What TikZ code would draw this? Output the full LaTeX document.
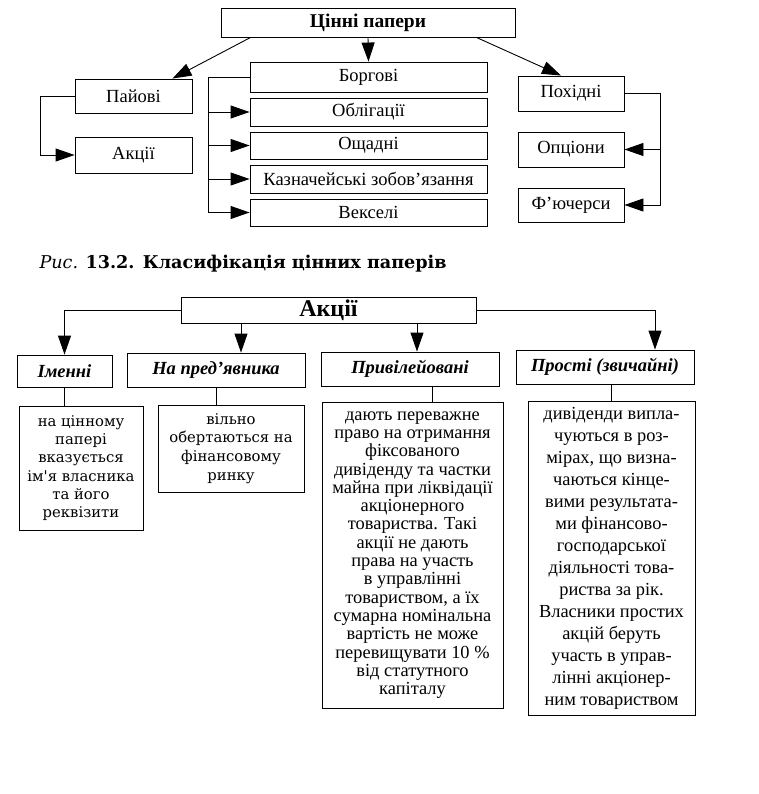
\documentclass[tikz,border=0pt]{standalone}
\usepackage{fontspec}
\setmainfont{Liberation Serif}
\newfontfamily\schfont{DejaVu Serif}
\usetikzlibrary{calc,arrows.meta}

\begin{document}
\begin{tikzpicture}[x=1pt, y=-1pt,
    box/.style={draw, line width=0.9pt, inner sep=0pt, align=center, font=\fontsize{18.5}{20}\selectfont},
    hbox/.style={box, font=\fontsize{18.5}{20}\selectfont\bfseries\itshape},
    tbox/.style={draw, line width=0.9pt, inner sep=0pt, align=center},
    arr/.style={line width=0.9pt, -{Triangle[length=19pt, width=13pt]}},
    ln/.style={line width=0.9pt}]
    \useasboundingbox[fill=white] (0,0) rectangle (758,794);

    % Класифікація цінних паперів
    \node[box, minimum width=294, minimum height=29, font=\fontsize{19.5}{21}\selectfont\bfseries] (cp) at (368,22.5) {Цінні папери};
    \node[box, minimum width=117, minimum height=34] (paiovi) at (133.5,96) {Пайові};
    \node[box, minimum width=117, minimum height=36] (akcii) at (133.5,155) {Акції};
    \node[box, minimum width=237, minimum height=30] (borg) at (368.5,77) {Боргові};
    \node[box, minimum width=237, minimum height=28] (obl) at (368.5,112) {Облігації};
    \node[box, minimum width=237, minimum height=27] (oshch) at (368.5,145.5) {Ощадні};
    \node[box, minimum width=237, minimum height=28] (kazn) at (368.5,179) {Казначейські зобов'язання};
    \node[box, minimum width=237, minimum height=27] (veks) at (368.5,212.5) {Векселі};
    \node[box, minimum width=106, minimum height=35] (poh) at (571,93.5) {Похідні};
    \node[box, minimum width=106, minimum height=35] (opc) at (571,149.5) {Опціони};
    \node[box, minimum width=106, minimum height=34] (fut) at (571,205) {Ф'ючерси};

    \draw[arr] ($(cp.south west)+(30,0)$) -- ($(paiovi.north east)+(-20,0)$);
    \draw[arr] (cp.south) -- (borg.north);
    \draw[arr] ($(cp.south east)+(-39,0)$) -- ($(poh.north)+(-10,0)$);

    \draw[arr] (paiovi.west) -- ++(-34,0) |- (akcii.west);
    \coordinate (bl) at ($(borg.west)+(-41,0)$);
    \draw[arr] (borg.west) -- (bl) |- (veks.west);
    \foreach \n in {obl, oshch, kazn}
        \draw[arr] (bl |- \n.west) -- (\n.west);
    \coordinate (pr) at ($(poh.east)+(36,0)$);
    \draw[arr] (poh.east) -- (pr) |- (fut.east);
    \draw[arr] (pr |- opc.east) -- (opc.east);

    \node[anchor=west, font=\schfont\fontsize{17.6}{19}\selectfont] (cap) at (36,264) {\textit{Рис.} \textbf{13.2. Класифікація цінних паперів}};

    % Акції
    \node[box, minimum width=295, minimum height=26, font=\fontsize{24}{26}\selectfont\bfseries] (ak) at (328.5,310) {Акції};
    \node[hbox, minimum width=95, minimum height=32] (im) at (64.5,371) {Іменні};
    \node[hbox, minimum width=178, minimum height=34] (np) at (216,370) {На пред'явника};
    \node[hbox, minimum width=178, minimum height=34] (pv) at (410,369) {Привілейовані};
    \node[hbox, minimum width=178, minimum height=34] (ps) at (605,367) {Прості (звичайні)};

    \draw[arr] (ak.west) -| (im.north);
    \draw[arr] (ak.east) -| ($(ps.north)+(50,0)$);
    \coordinate (a2) at ($(np.north)+(25,0)$);
    \coordinate (a3) at ($(pv.north)+(7,0)$);
    \foreach \c in {a2, a3}
        \draw[arr] (\c |- ak.south) -- (\c);

    \node[tbox, minimum width=124, minimum height=124, font=\schfont\fontsize{14.8}{18.2}\selectfont] (t1) at (81,468)
        {на цінному\\папері\\вказується\\ім'я власника\\та його\\реквізити};
    \node[tbox, minimum width=146, minimum height=87, font=\schfont\fontsize{14.8}{18.7}\selectfont] (t2) at (231,448.5)
        {вільно\\обертаються на\\фінансовому\\ринку};
    \node[tbox, minimum width=181, minimum height=306, font=\fontsize{18.4}{18.3}\selectfont] (t3) at (412.5,555)
        {дають переважне\\право на отримання\\фіксованого\\дивіденду та частки\\майна при ліквідації\\акціонерного\\товариства. Такі\\акції не дають\\права на участь\\в управлінні\\товариством, а їх\\сумарна номінальна\\вартість не може\\перевищувати 10~\%\\від статутного\\капіталу};
    \node[tbox, minimum width=167, minimum height=314, font=\fontsize{18.4}{22}\selectfont] (t4) at (611.5,558)
        {дивіденди випла-\\чуються в роз-\\мірах, що визна-\\чаються кінце-\\вими результата-\\ми фінансово-\\господарської\\діяльності това-\\риства за рік.\\Власники простих\\акцій беруть\\участь в управ-\\лінні акціонер-\\ним товариством};

    \draw[ln] (im.south) -- (im.south |- t1.north);
    \draw[ln] (np.south) -- (np.south |- t2.north);
    \coordinate (l3) at ($(pv.south)+(22,0)$);
    \draw[ln] (l3) -- (l3 |- t3.north);
    \draw[ln] (t4.north) -- (t4.north |- ps.south);
\end{tikzpicture}
\end{document}
